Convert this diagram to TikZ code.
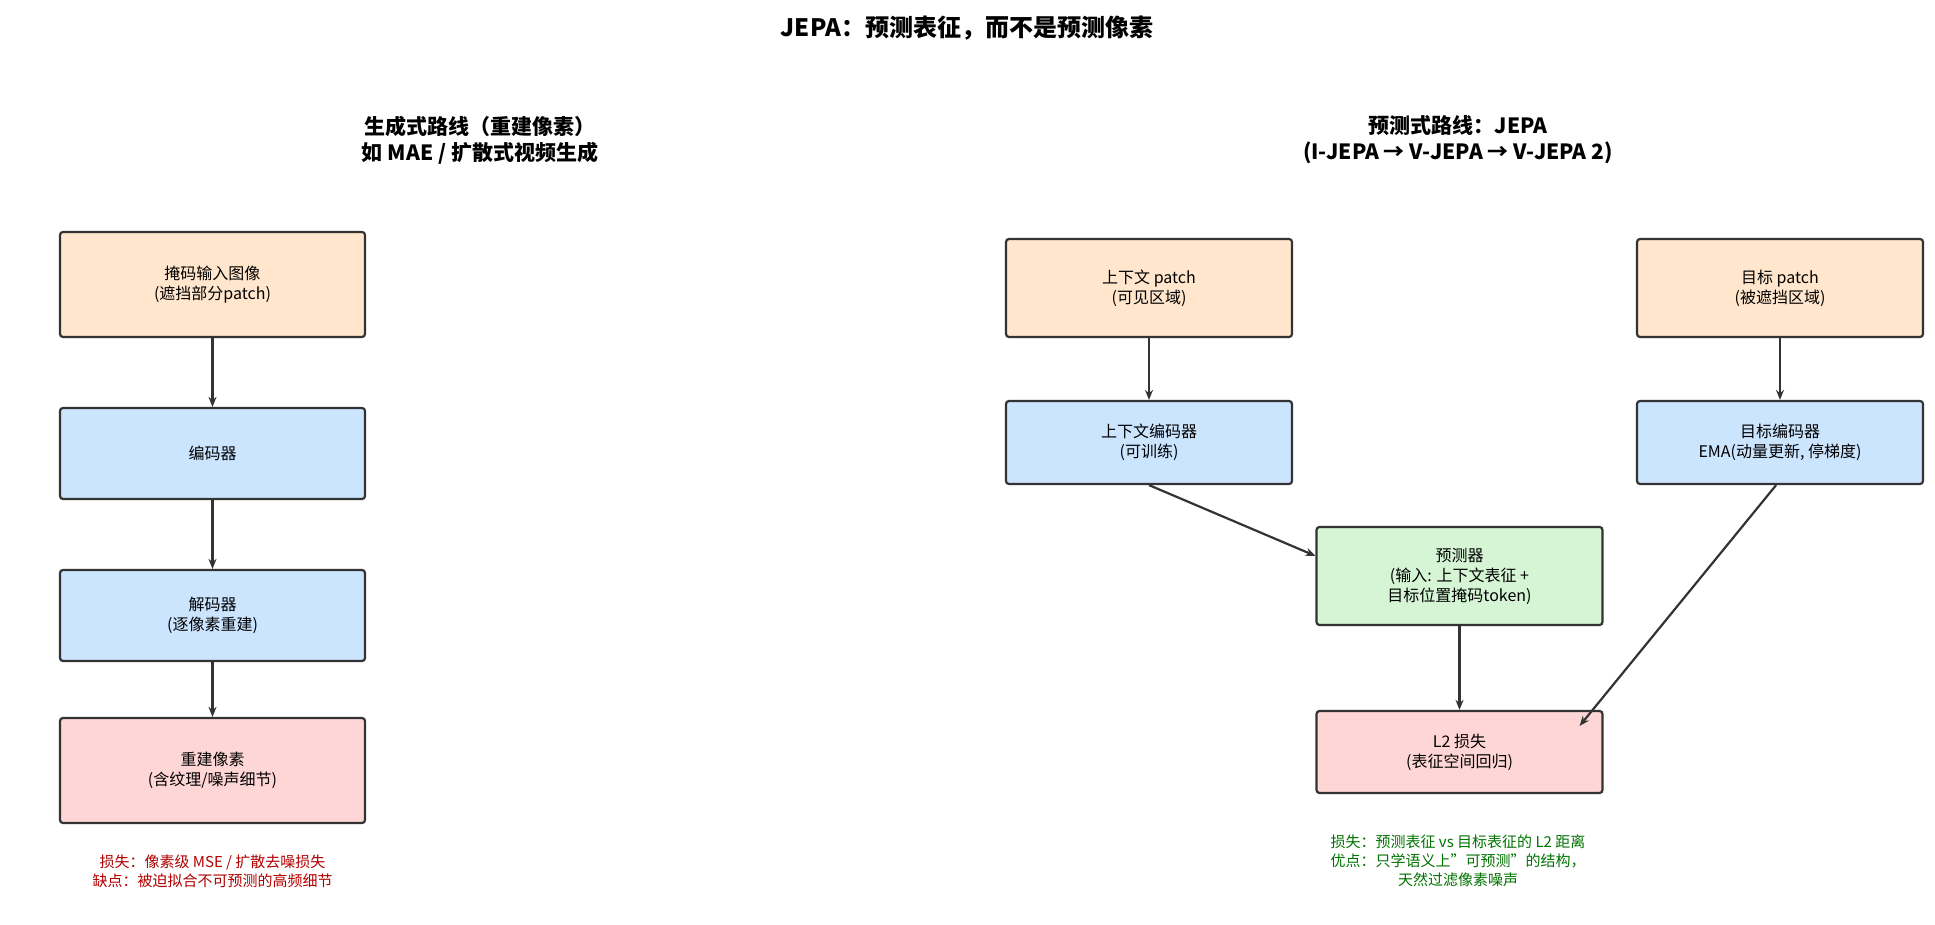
\documentclass[tikz,border=0pt]{standalone}
\usepackage{fontspec}
\setmainfont{Noto Sans CJK SC}
\usetikzlibrary{arrows.meta}
\definecolor{inorange}{HTML}{FFE6CC}
\definecolor{encblue}{HTML}{CCE5FF}
\definecolor{predgreen}{HTML}{D5F5D5}
\definecolor{lossred}{HTML}{FFD6D6}
\definecolor{edgegray}{HTML}{333333}
\tikzset{
  box/.style={draw=edgegray, line width=1.1pt, rounded corners=1.5pt, align=center,
    font=\fontsize{8}{10}\selectfont, inner sep=0pt},
  arr/.style={-{Stealth[length=5pt,width=4pt]}, draw=edgegray, line width=1.1pt},
  head/.style={font=\bfseries\fontsize{10.5}{13}\selectfont, align=center},
}
\begin{document}
\begin{tikzpicture}[x=0.5pt, y=-0.5pt]
  \clip (0,0) rectangle (1935,925);
  \fill[white] (0,0) rectangle (1935,925);
  \node [font=\bfseries\fontsize{12}{14}\selectfont] (title) at (967,28) {JEPA：预测表征，而不是预测像素};
  % left path
  \node [head] (lhead) at (480,140) {生成式路线（重建像素）\\如 MAE / 扩散式视频生成};
  \node [box, fill=inorange, minimum width=152.5pt, minimum height=52.5pt] (masked) at (212.5,284.5) {掩码输入图像\\(遮挡部分patch)};
  \node [box, fill=encblue, minimum width=152.5pt, minimum height=45.5pt] (enc) at (212.5,453.5) {编码器};
  \node [box, fill=encblue, minimum width=152.5pt, minimum height=45.5pt] (dec) at (212.5,615.5) {解码器\\(逐像素重建)};
  \node [box, fill=lossred, minimum width=152.5pt, minimum height=52.5pt] (recon) at (212.5,770.5) {重建像素\\(含纹理/噪声细节)};
  \draw[arr] (masked) -- (enc);
  \draw[arr] (enc) -- (dec);
  \draw[arr] (dec) -- (recon);
  \node [font=\fontsize{7.5}{9.5}\selectfont, text=red!70!black, align=center] (lnote) at (212.5,871) {损失：像素级 MSE / 扩散去噪损失\\缺点：被迫拟合不可预测的高频细节};
  % right path
  \node [head] (rhead) at (1458,140) {预测式路线：JEPA\\(I-JEPA → V-JEPA → V-JEPA 2)};
  \node [box, fill=inorange, minimum width=143pt, minimum height=49pt] (ctx) at (1149,288) {上下文 patch\\(可见区域)};
  \node [box, fill=inorange, minimum width=143pt, minimum height=49pt] (tgt) at (1780,288) {目标 patch\\(被遮挡区域)};
  \node [box, fill=encblue, minimum width=143pt, minimum height=41.5pt] (ctxenc) at (1149,442.5) {上下文编码器\\(可训练)};
  \node [box, fill=encblue, minimum width=143pt, minimum height=41.5pt] (tgtenc) at (1780,442.5) {目标编码器\\EMA(动量更新, 停梯度)};
  \node [box, fill=predgreen, minimum width=143pt, minimum height=49pt] (pred) at (1459.5,576) {预测器\\(输入: 上下文表征 +\\目标位置掩码token)};
  \node [box, fill=lossred, minimum width=143pt, minimum height=41pt] (loss) at (1459.5,752) {L2 损失\\(表征空间回归)};
  \draw[arr] (ctx) -- (ctxenc);
  \draw[arr] (tgt) -- (tgtenc);
  \draw[arr] (ctxenc.south) -- ([yshift=-15pt]pred.north west);
  \draw[arr] ([xshift=-74pt]tgtenc.south east) -- ([xshift=-12pt,yshift=-8pt]loss.north east);
  \draw[arr] (pred) -- (loss);
  \node [font=\fontsize{7.5}{9.5}\selectfont, text=green!45!black, align=center] (rnote) at (1458,861) {损失：预测表征 vs 目标表征的 L2 距离\\优点：只学语义上"可预测"的结构，\\天然过滤像素噪声};
\end{tikzpicture}
\end{document}
